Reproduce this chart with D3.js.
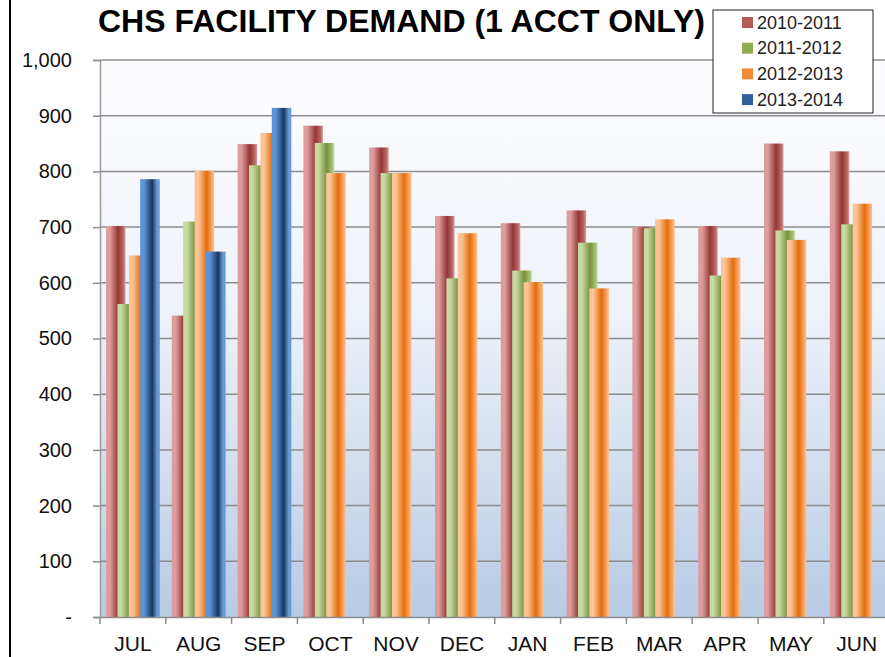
<!DOCTYPE html>
<html>
<head>
<meta charset="utf-8">
<script src="https://cdn.jsdelivr.net/npm/d3@7"></script>
<style>
  body { margin: 0; background: #fff; }
  svg { display: block; font-family: "Liberation Sans", Arial, sans-serif; }
</style>
</head>
<body>
<script>
var months = ["JUL","AUG","SEP","OCT","NOV","DEC","JAN","FEB","MAR","APR","MAY","JUN"]
var seasons = ["2010-2011","2011-2012","2012-2013","2013-2014"]
var fy2011 = [702,541,849,882,843,720,707,730,700,702,850,836]
var fy2012 = [562,710,811,851,797,608,622,672,698,613,694,705]
var fy2013 = [649,801,869,797,797,689,601,590,714,645,677,742]
var fy2014 = [786,656,914,null,null,null,null,null,null,null,null,null]
var yTicks = [0,100,200,300,400,500,600,700,800,900,1000]

var series = [fy2011, fy2012, fy2013, fy2014]
// light / dark / edge colours for the cylinder look
var shades = [
  ["#dc9d9c","#943634","#b76866"],
  ["#c6d9a0","#76923c","#a5bd72"],
  ["#fbc496","#e46c0a","#f8a564"],
  ["#5b93d8","#17375e","#6f9fd8"]
]
var legendCol = ["#b65a58","#8fae53","#f28a3a","#2f5f9e"]

var width = 885, height = 657
var margin = {left:100, top:60, bottom:40}
var plotRight = 100 + 12*65.8

var svg = d3.select("body").append("svg")
  .attr("width", width).attr("height", height)

var defs = svg.append("defs")
var bg = defs.append("linearGradient").attr("id","bg")
  .attr("x1",0).attr("y1",0).attr("x2",0).attr("y2",1)
bg.append("stop").attr("offset","0").attr("stop-color","#fdfdff")
bg.append("stop").attr("offset","0.45").attr("stop-color","#eef2f9")
bg.append("stop").attr("offset","1").attr("stop-color","#b7cbe4")

shades.forEach(function(s,i){
  var g = defs.append("linearGradient").attr("id","bar"+i)
    .attr("x1",0).attr("y1",0).attr("x2",1).attr("y2",0)
  g.append("stop").attr("offset","0").attr("stop-color",s[0])
  g.append("stop").attr("offset","0.2").attr("stop-color",s[0])
  g.append("stop").attr("offset","0.62").attr("stop-color",s[1])
  g.append("stop").attr("offset","0.88").attr("stop-color",s[2])
  g.append("stop").attr("offset","1").attr("stop-color",s[0])
})

var x = d3.scaleBand().domain(months).range([margin.left, plotRight]).padding(0)
var y = d3.scaleLinear().domain([0,1000]).range([height-margin.bottom, margin.top])
var xs = d3.scalePoint().domain(seasons).range([6, 6+3*11.4])
var barW = 19.5

// left border
svg.append("line").attr("x1",10).attr("x2",10).attr("y1",0).attr("y2",height)
  .attr("stroke","#000").attr("stroke-width",2)

// plot background
svg.append("rect")
  .attr("x", margin.left).attr("y", y(1000))
  .attr("width", plotRight-margin.left).attr("height", y(0)-y(1000))
  .attr("fill","url(#bg)")

// grid
svg.append("g").selectAll("line").data(yTicks.slice(1)).enter().append("line")
  .attr("x1", margin.left).attr("x2", plotRight)
  .attr("y1", function(d){return y(d)}).attr("y2", function(d){return y(d)})
  .attr("stroke","#8c8c8c").attr("stroke-width",1.5)

// bars
seasons.forEach(function(s,i){
  svg.append("g").selectAll("rect")
    .data(series[i].map(function(v,j){return {m:months[j], v:v}}).filter(function(d){return d.v!=null}))
    .enter().append("rect")
    .attr("x", function(d){return x(d.m)+xs(s)})
    .attr("y", function(d){return y(d.v)})
    .attr("width", barW)
    .attr("height", function(d){return y(0)-y(d.v)})
    .attr("fill","url(#bar"+i+")")
})

// axes
var yAxis = d3.axisLeft(y).tickValues(yTicks).tickSize(7).tickPadding(21)
  .tickFormat(function(d){return d===0 ? "-" : d3.format(",")(d)})
var gy = svg.append("g").attr("transform","translate("+margin.left+",0)").call(yAxis)
gy.select(".domain").attr("stroke","#9a9a9a").attr("stroke-width",1.5)
gy.selectAll(".tick line").attr("stroke","#8c8c8c").attr("stroke-width",1.5)
gy.selectAll("text").attr("font-size",20).attr("fill","#111")
  .attr("font-family","Liberation Sans, Arial, sans-serif")

var xAxis = d3.axisBottom(x).tickSize(0).tickPadding(19)
var gx = svg.append("g").attr("transform","translate(0,"+y(0)+")").call(xAxis)
gx.select(".domain").attr("stroke","#8c8c8c").attr("stroke-width",1.5)
gx.selectAll("text").attr("font-size",21).attr("fill","#111")
  .attr("font-family","Liberation Sans, Arial, sans-serif")
svg.append("g").selectAll("line").data(months).enter().append("line")
  .attr("x1", function(d){return x(d)}).attr("x2", function(d){return x(d)})
  .attr("y1", y(0)).attr("y2", y(0)+7)
  .attr("stroke","#8c8c8c").attr("stroke-width",1.5)

// title
svg.append("text").attr("x",98).attr("y",32)
  .attr("font-size",31).attr("font-weight","bold").attr("fill","#000")
  .attr("textLength",607).attr("lengthAdjust","spacingAndGlyphs")
  .text("CHS FACILITY DEMAND (1 ACCT ONLY)")

// legend
var lg = svg.append("g").attr("transform","translate(713,10)")
lg.append("rect").attr("width",160).attr("height",103)
  .attr("fill","#fff").attr("stroke","#222").attr("stroke-width",1)
seasons.forEach(function(s,i){
  var row = lg.append("g").attr("transform","translate(0,"+(12+i*25.7)+")")
  row.append("rect").attr("x",29).attr("y",-5).attr("width",11).attr("height",11)
    .attr("fill",legendCol[i])
  row.append("text").attr("x",44).attr("y",6.5).attr("font-size",18)
    .attr("fill","#222").text(s)
})
</script>
</body>
</html>
